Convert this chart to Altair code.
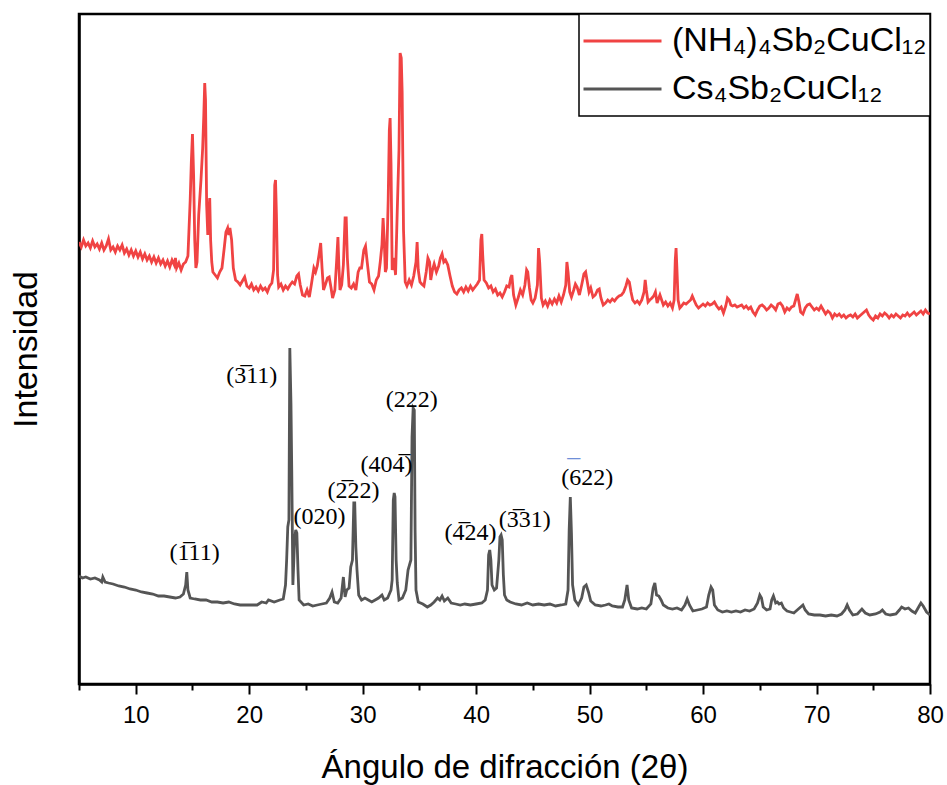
import altair as alt
import pandas as pd

# (2theta, intensity in arbitrary units)
red_pattern = [
    (5.0, 458), (5.2, 453), (5.4, 460), (5.6, 454), (5.8, 457), (6.0, 452), (6.2, 459), (6.4, 453),
    (6.6, 456), (6.8, 451), (7.0, 457), (7.2, 450), (7.4, 454), (7.6, 461), (7.8, 450), (8.0, 453),
    (8.2, 448), (8.4, 454), (8.6, 450), (8.8, 455), (9.0, 447), (9.2, 451), (9.4, 445), (9.6, 450),
    (9.8, 444), (10.0, 449), (10.2, 443), (10.4, 448), (10.6, 441), (10.8, 446), (11.0, 440), (11.2, 444),
    (11.4, 438), (11.6, 443), (11.8, 437), (12.0, 442), (12.2, 436), (12.4, 440), (12.6, 434), (12.8, 439),
    (13.0, 433), (13.2, 440), (13.4, 435), (13.5, 442), (13.6, 432), (13.8, 437), (14.0, 430), (14.2, 436),
    (14.4, 438), (14.6, 444), (14.8, 500), (14.9, 538), (15.0, 566), (15.1, 525), (15.2, 460), (15.3, 432),
    (15.4, 438), (15.55, 485), (15.75, 520), (15.9, 552), (16.0, 585), (16.08, 617), (16.15, 600), (16.25, 495),
    (16.35, 465), (16.45, 490), (16.52, 502), (16.6, 460), (16.7, 438), (16.8, 428), (17.0, 425), (17.2, 422),
    (17.4, 428), (17.6, 432), (17.8, 452), (17.95, 468), (18.1, 472), (18.2, 465), (18.3, 472), (18.45, 460),
    (18.6, 432), (18.8, 420), (19.0, 418), (19.2, 415), (19.4, 419), (19.6, 423), (19.8, 414), (20.0, 412),
    (20.2, 416), (20.4, 410), (20.6, 413), (20.8, 409), (21.0, 414), (21.2, 410), (21.4, 412), (21.6, 408),
    (21.8, 414), (22.0, 417), (22.15, 430), (22.25, 515), (22.32, 520), (22.4, 485), (22.5, 425), (22.6, 413),
    (22.8, 416), (23.0, 410), (23.2, 414), (23.4, 411), (23.6, 415), (23.8, 418), (24.0, 416), (24.2, 424),
    (24.35, 426), (24.5, 415), (24.7, 405), (24.9, 404), (25.1, 410), (25.3, 403), (25.5, 417), (25.7, 432),
    (25.85, 428), (26.0, 434), (26.15, 445), (26.3, 457), (26.42, 432), (26.55, 410), (26.7, 415), (26.9, 422),
    (27.05, 423), (27.2, 413), (27.35, 402), (27.55, 410), (27.7, 438), (27.82, 463), (27.9, 435), (28.0, 410),
    (28.15, 415), (28.3, 435), (28.45, 482), (28.55, 482), (28.65, 442), (28.8, 414), (29.0, 412), (29.2, 416),
    (29.4, 410), (29.6, 428), (29.75, 432), (29.9, 432), (30.1, 450), (30.25, 454), (30.4, 438), (30.6, 418),
    (30.8, 416), (31.0, 410), (31.2, 420), (31.4, 424), (31.55, 438), (31.7, 455), (31.8, 482), (31.9, 460),
    (32.0, 428), (32.1, 432), (32.25, 500), (32.35, 570), (32.42, 582), (32.5, 535), (32.6, 430), (32.75, 442),
    (32.9, 425), (33.05, 490), (33.2, 550), (33.3, 647), (33.4, 642), (33.48, 608), (33.6, 470), (33.75, 418),
    (33.9, 414), (34.1, 420), (34.3, 415), (34.5, 424), (34.7, 438), (34.8, 458), (34.9, 430), (35.05, 418),
    (35.2, 416), (35.4, 414), (35.6, 428), (35.75, 442), (35.9, 438), (36.0, 420), (36.15, 430), (36.3, 436),
    (36.5, 428), (36.7, 434), (36.85, 442), (37.0, 446), (37.15, 438), (37.3, 440), (37.5, 435), (37.7, 424),
    (37.9, 414), (38.1, 408), (38.3, 406), (38.5, 410), (38.7, 412), (38.9, 408), (39.1, 413), (39.3, 409),
    (39.5, 414), (39.7, 410), (39.9, 413), (40.1, 416), (40.3, 420), (40.42, 460), (40.5, 466), (40.58, 445),
    (40.7, 420), (40.9, 417), (41.1, 412), (41.3, 414), (41.5, 408), (41.7, 411), (41.9, 405), (42.1, 407),
    (42.3, 403), (42.5, 408), (42.7, 414), (42.9, 413), (43.05, 422), (43.15, 425), (43.3, 405), (43.5, 395),
    (43.7, 402), (43.9, 410), (44.1, 405), (44.3, 415), (44.45, 430), (44.55, 428), (44.7, 412), (44.85, 400),
    (45.0, 397), (45.2, 402), (45.4, 415), (45.5, 452), (45.6, 438), (45.75, 402), (45.9, 395), (46.1, 399),
    (46.3, 394), (46.5, 400), (46.7, 396), (46.9, 401), (47.1, 397), (47.3, 404), (47.5, 398), (47.7, 405),
    (47.9, 415), (48.0, 438), (48.1, 428), (48.25, 408), (48.4, 403), (48.6, 410), (48.75, 416), (48.9, 413),
    (49.1, 405), (49.3, 415), (49.5, 426), (49.65, 428), (49.8, 418), (49.95, 408), (50.1, 412), (50.3, 403),
    (50.5, 405), (50.7, 410), (50.85, 411), (51.0, 402), (51.2, 395), (51.4, 397), (51.6, 400), (51.8, 398),
    (52.0, 401), (52.2, 399), (52.4, 402), (52.6, 404), (52.8, 405), (53.0, 408), (53.2, 414), (53.35, 420),
    (53.5, 418), (53.65, 408), (53.8, 400), (54.0, 397), (54.2, 399), (54.4, 396), (54.6, 400), (54.8, 408),
    (54.9, 420), (55.0, 410), (55.15, 398), (55.3, 400), (55.5, 402), (55.65, 404), (55.8, 408), (55.95, 397),
    (56.1, 402), (56.2, 405), (56.35, 400), (56.5, 395), (56.7, 398), (56.9, 394), (57.1, 397), (57.3, 392),
    (57.45, 400), (57.55, 440), (57.62, 452), (57.7, 430), (57.8, 400), (57.95, 392), (58.1, 394), (58.3, 397),
    (58.5, 396), (58.7, 398), (58.9, 400), (59.05, 404), (59.2, 400), (59.4, 395), (59.6, 392), (59.8, 394),
    (60.0, 396), (60.2, 394), (60.4, 397), (60.6, 395), (60.8, 396), (61.0, 398), (61.2, 394), (61.4, 391),
    (61.6, 393), (61.8, 387), (62.0, 394), (62.15, 402), (62.3, 400), (62.45, 395), (62.6, 394), (62.8, 395),
    (63.0, 393), (63.2, 394), (63.4, 395), (63.6, 392), (63.8, 394), (64.0, 391), (64.2, 393), (64.4, 388),
    (64.6, 385), (64.8, 390), (65.0, 394), (65.2, 395), (65.4, 393), (65.6, 390), (65.8, 392), (66.0, 395),
    (66.2, 393), (66.4, 390), (66.6, 396), (66.8, 397), (67.0, 394), (67.2, 388), (67.4, 392), (67.6, 390),
    (67.8, 393), (68.0, 394), (68.15, 400), (68.3, 406), (68.45, 398), (68.6, 388), (68.8, 386), (69.0, 392),
    (69.2, 395), (69.4, 396), (69.6, 393), (69.8, 390), (70.0, 392), (70.2, 390), (70.4, 394), (70.6, 390),
    (70.8, 386), (71.0, 389), (71.2, 387), (71.4, 382), (71.6, 386), (71.8, 384), (72.0, 386), (72.2, 383),
    (72.4, 385), (72.6, 382), (72.8, 384), (73.0, 385), (73.2, 383), (73.4, 386), (73.6, 382), (73.8, 384),
    (74.0, 386), (74.2, 388), (74.4, 390), (74.6, 385), (74.8, 382), (75.0, 380), (75.2, 384), (75.4, 382),
    (75.6, 386), (75.8, 384), (76.0, 387), (76.2, 385), (76.4, 382), (76.6, 385), (76.8, 383), (77.0, 386),
    (77.2, 384), (77.4, 382), (77.6, 385), (77.8, 384), (78.0, 387), (78.2, 384), (78.4, 386), (78.6, 388),
    (78.8, 385), (79.0, 387), (79.2, 389), (79.4, 386), (79.6, 390), (79.8, 387), (80.0, 386),
]

cs_pattern = [
    (5.0, 124), (5.3, 122), (5.6, 123), (6.0, 121), (6.4, 122), (6.8, 120), (7.0, 118), (7.1, 123),
    (7.3, 118), (7.6, 117), (8.0, 116), (8.5, 114), (9.0, 113), (9.5, 111), (10.0, 110), (10.5, 108),
    (11.0, 107), (11.5, 106), (12.0, 104), (12.5, 104), (13.0, 103), (13.5, 102), (13.9, 103), (14.2, 106),
    (14.4, 115), (14.5, 128), (14.6, 110), (14.8, 102), (15.2, 101), (15.7, 100), (16.2, 100), (16.7, 98),
    (17.2, 98), (17.7, 97), (18.2, 98), (18.7, 96), (19.2, 95), (19.7, 95), (20.2, 95), (20.7, 95),
    (21.1, 98), (21.5, 97), (21.7, 100), (22.2, 98), (22.7, 100), (23.0, 101), (23.2, 115), (23.3, 140),
    (23.4, 173), (23.5, 180), (23.58, 352), (23.68, 297), (23.75, 230), (23.85, 115), (24.0, 160), (24.1, 170),
    (24.2, 167), (24.3, 130), (24.4, 100), (24.8, 95), (25.2, 96), (25.6, 94), (26.0, 95), (26.4, 96),
    (26.8, 97), (27.1, 102), (27.3, 108), (27.5, 98), (27.8, 97), (28.1, 102), (28.3, 123), (28.45, 103),
    (28.6, 110), (28.8, 112), (28.95, 133), (29.1, 140), (29.22, 197), (29.3, 197), (29.4, 153), (29.5, 130),
    (29.65, 105), (29.9, 100), (30.2, 102), (30.5, 100), (30.8, 98), (31.1, 100), (31.4, 102), (31.7, 105),
    (31.9, 100), (32.2, 102), (32.5, 110), (32.6, 120), (32.7, 200), (32.78, 207), (32.85, 203), (32.95, 140),
    (33.05, 117), (33.2, 100), (33.5, 102), (33.8, 110), (34.0, 130), (34.25, 140), (34.35, 263), (34.45, 292),
    (34.55, 290), (34.62, 170), (34.7, 110), (34.9, 98), (35.3, 96), (35.7, 93), (36.0, 95), (36.3, 98),
    (36.6, 102), (36.8, 100), (37.0, 104), (37.2, 99), (37.5, 102), (37.8, 97), (38.2, 96), (38.6, 95),
    (39.0, 96), (39.5, 95), (40.0, 96), (40.5, 97), (40.8, 100), (41.0, 110), (41.1, 145), (41.2, 150),
    (41.3, 140), (41.4, 115), (41.6, 110), (41.8, 112), (42.0, 140), (42.1, 163), (42.2, 165), (42.3, 160),
    (42.4, 125), (42.5, 105), (42.7, 100), (43.0, 98), (43.5, 96), (44.0, 95), (44.5, 97), (45.0, 95),
    (45.5, 96), (46.0, 95), (46.5, 96), (47.0, 94), (47.5, 95), (47.9, 96), (48.1, 110), (48.2, 170),
    (48.3, 203), (48.4, 167), (48.5, 115), (48.7, 100), (49.0, 95), (49.3, 102), (49.5, 113), (49.7, 115),
    (49.9, 108), (50.1, 99), (50.5, 95), (51.0, 94), (51.4, 95), (51.7, 96), (52.0, 94), (52.5, 93),
    (52.9, 93), (53.1, 100), (53.3, 115), (53.45, 100), (53.7, 92), (54.2, 91), (54.6, 92), (55.0, 91),
    (55.4, 96), (55.6, 112), (55.75, 117), (55.9, 105), (56.1, 104), (56.3, 100), (56.5, 95), (56.9, 92),
    (57.3, 91), (57.7, 92), (58.1, 90), (58.4, 95), (58.6, 101), (58.8, 95), (59.1, 89), (59.5, 90),
    (59.9, 91), (60.3, 93), (60.5, 105), (60.7, 113), (60.85, 110), (61.0, 95), (61.3, 90), (61.7, 88),
    (62.1, 89), (62.5, 88), (62.9, 89), (63.3, 88), (63.7, 90), (64.1, 89), (64.5, 91), (64.8, 97),
    (65.0, 105), (65.15, 102), (65.3, 93), (65.6, 90), (65.9, 91), (66.05, 100), (66.2, 104), (66.4, 97),
    (66.55, 98), (66.7, 96), (66.9, 97), (67.1, 92), (67.4, 89), (67.7, 88), (68.0, 87), (68.3, 90),
    (68.6, 93), (68.8, 95), (69.0, 90), (69.3, 86), (69.8, 85), (70.3, 85), (70.8, 84), (71.3, 85),
    (71.8, 84), (72.2, 86), (72.5, 90), (72.7, 95), (72.9, 90), (73.2, 85), (73.6, 86), (74.0, 91),
    (74.3, 87), (74.7, 85), (75.2, 86), (75.6, 88), (75.8, 90), (76.1, 86), (76.5, 85), (77.0, 86),
    (77.3, 90), (77.5, 93), (77.8, 91), (78.1, 92), (78.4, 89), (78.7, 87), (79.0, 93), (79.2, 97),
    (79.4, 94), (79.7, 88), (80.0, 85),
]

series_names = ["(NH\u2084)\u2084Sb\u2082CuCl\u2081\u2082", "Cs\u2084Sb\u2082CuCl\u2081\u2082"]
series_colors = ["#f04343", "#555555"]

peak_labels = ["(1\u030511)", "(3\u030511)", "(020)", "(2\u030522)", "(404\u0305)",
               "(222)", "(4\u030524)", "(3\u030531)", "(622)"]
label_2theta = [15.18, 20.22, 26.2, 29.2, 32.1, 34.32, 39.5, 44.28, 49.8]
label_intensity = [147, 324, 183, 209, 235, 300, 167, 180, 222]

bar_2theta = [48.6]
bar_intensity = [243]

rows = []
for name, pattern in zip(series_names, [red_pattern, cs_pattern]):
    for tt, inten in pattern:
        rows.append({"2theta": tt, "intensity": inten, "series": name})
df = pd.DataFrame(rows)

labels_df = pd.DataFrame({"2theta": label_2theta, "intensity": label_intensity, "text": peak_labels})
bar_df = pd.DataFrame({"2theta": bar_2theta, "intensity": bar_intensity, "text": ["\u2013"]})

x_scale = alt.Scale(domain=[5, 80], nice=False, zero=False)
y_scale = alt.Scale(domain=[16, 686], nice=False, zero=False)

x_axis = alt.Axis(
    title="Ángulo de difracción (2θ)",
    values=[5, 10, 15, 20, 25, 30, 35, 40, 45, 50, 55, 60, 65, 70, 75, 80],
    labelExpr="datum.value % 10 === 0 ? datum.label : ''",
    tickSize={"condition": {"test": "datum.value % 10 === 0", "value": 10}, "value": 6},
    tickWidth=2, tickColor="black", domainColor="black", domainWidth=2.5,
    labelFont="Liberation Sans", labelFontSize=24, labelColor="black", labelPadding=9,
    titleFont="Liberation Sans", titleFontSize=33, titleFontWeight="normal", titleColor="black",
    titlePadding=24, grid=False, labelFlush=False,
)
y_axis = alt.Axis(
    title="Intensidad", ticks=False, labels=False, grid=False,
    domainColor="black", domainWidth=2.5,
    titleFont="Liberation Sans", titleFontSize=34, titleFontWeight="normal", titleColor="black",
    titlePadding=36,
)

lines = alt.Chart(df).mark_line(strokeWidth=2.8, clip=True).encode(
    x=alt.X("2theta:Q", scale=x_scale, axis=x_axis),
    y=alt.Y("intensity:Q", scale=y_scale, axis=y_axis),
    color=alt.Color(
        "series:N",
        scale=alt.Scale(domain=series_names, range=series_colors),
        legend=alt.Legend(
            title=None, orient="top-right", offset=0, padding=3,
            symbolType="stroke", symbolSize=6084, symbolStrokeWidth=3,
            labelFont="Liberation Sans", labelFontSize=34, labelColor="black",
            labelOffset=9, clipHeight=48, rowPadding=0,
            strokeColor="black", fillColor="white", labelLimit=400,
        ),
    ),
    order=alt.Order("2theta:Q"),
    detail="series:N",
)

texts = alt.Chart(labels_df).mark_text(
    font="Liberation Serif", fontSize=24, color="black", align="center", baseline="middle"
).encode(x="2theta:Q", y="intensity:Q", text="text:N")

bar = alt.Chart(bar_df).mark_text(
    font="Liberation Serif", fontSize=26, color="#6f8fd8", align="center", baseline="middle"
).encode(x="2theta:Q", y="intensity:Q", text="text:N")

chart = alt.layer(lines, texts, bar).properties(
    width=851, height=670,
    autosize=alt.AutoSizeParams(type="none"),
    padding={"left": 79, "top": 14, "right": 17, "bottom": 101},
).configure_view(stroke="black", strokeWidth=2.5).configure_legend(strokeWidth=1.5)

chart.save("out.html", embed_options={"renderer": "svg", "actions": False})
